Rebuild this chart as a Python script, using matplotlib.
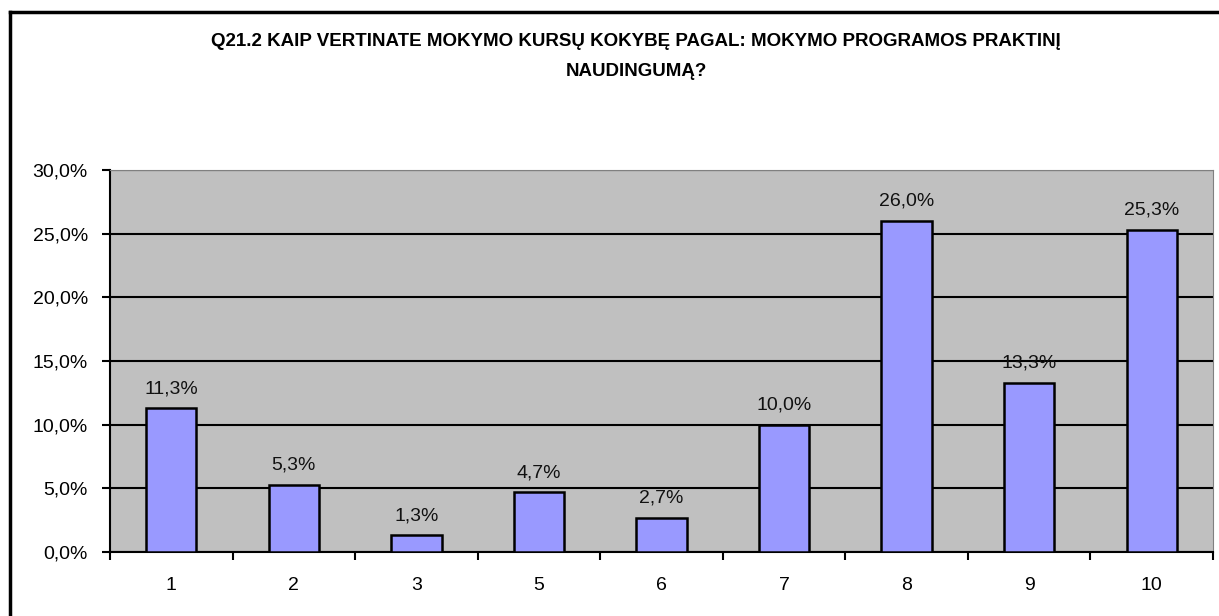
import matplotlib
matplotlib.use("Agg")
import matplotlib.pyplot as plt
from matplotlib.lines import Line2D
from matplotlib.ticker import FixedLocator, NullFormatter

BAR = "#9999ff"
PLOT_BG = "#c0c0c0"

categories = ["1", "2", "3", "5", "6", "7", "8", "9", "10"]
values = [11.3, 5.3, 1.3, 4.7, 2.7, 10.0, 26.0, 13.3, 25.3]
yticks = [0, 5, 10, 15, 20, 25, 30]

plt.rcParams["font.family"] = ["Liberation Sans", "DejaVu Sans"]
FS = 14

fig = plt.figure(figsize=(12.19, 6.16), dpi=100)
fig.patch.set_facecolor("white")
ax = fig.add_axes([110 / 1219, 64 / 616, 1103 / 1219, 382 / 616])
ax.set_facecolor(PLOT_BG)

x = list(range(len(categories)))
ax.bar(x, values, width=0.41, color=BAR, edgecolor="black", linewidth=1.8, zorder=3)

for xi, v in zip(x, values):
    ax.annotate(f"{v:.1f}%".replace(".", ","), xy=(xi, v), xytext=(0, 8),
                textcoords="offset points", ha="center", va="bottom",
                fontsize=FS, color="#111111", zorder=4)

ax.set_xlim(-0.5, len(categories) - 0.5)
ax.set_ylim(0, 30)
ax.set_yticks(yticks)
ax.set_yticklabels([f"{t:.1f}%".replace(".", ",") for t in yticks], fontsize=FS)
ax.yaxis.grid(True, color="black", linewidth=1.5, zorder=1)
ax.set_axisbelow(True)

# category labels centred, ticks between categories
ax.set_xticks(x)
ax.set_xticklabels(categories, fontsize=FS)
ax.tick_params(axis="x", which="major", length=0, pad=18)
ax.xaxis.set_minor_locator(FixedLocator([i + 0.5 for i in range(-1, len(categories))]))
ax.xaxis.set_minor_formatter(NullFormatter())
ax.tick_params(axis="x", which="minor", length=6, width=1.5, direction="out")
ax.tick_params(axis="y", length=6, width=1.5, direction="out", pad=10)

ax.spines["left"].set_color("black")
ax.spines["left"].set_linewidth(1.5)
ax.spines["bottom"].set_color("black")
ax.spines["bottom"].set_linewidth(1.5)
ax.spines["top"].set_color("#808080")
ax.spines["right"].set_color("#808080")

fig.text(636 / 1219, 1 - 41 / 616,
         "Q21.2 KAIP VERTINATE MOKYMO KURSŲ KOKYBĘ PAGAL: MOKYMO PROGRAMOS PRAKTINĮ",
         ha="center", va="center", fontsize=13.5, fontweight="bold")
fig.text(636 / 1219, 1 - 72 / 616, "NAUDINGUMĄ?",
         ha="center", va="center", fontsize=13.5, fontweight="bold")

# outer chart border
fig.add_artist(Line2D([10 / 1219, 10 / 1219], [0, 1 - 12 / 616],
                      transform=fig.transFigure, color="black", linewidth=2.5))
fig.add_artist(Line2D([10 / 1219, 1], [1 - 12 / 616, 1 - 12 / 616],
                      transform=fig.transFigure, color="black", linewidth=2.5))

fig.savefig("out.png", dpi=100, facecolor="white")
